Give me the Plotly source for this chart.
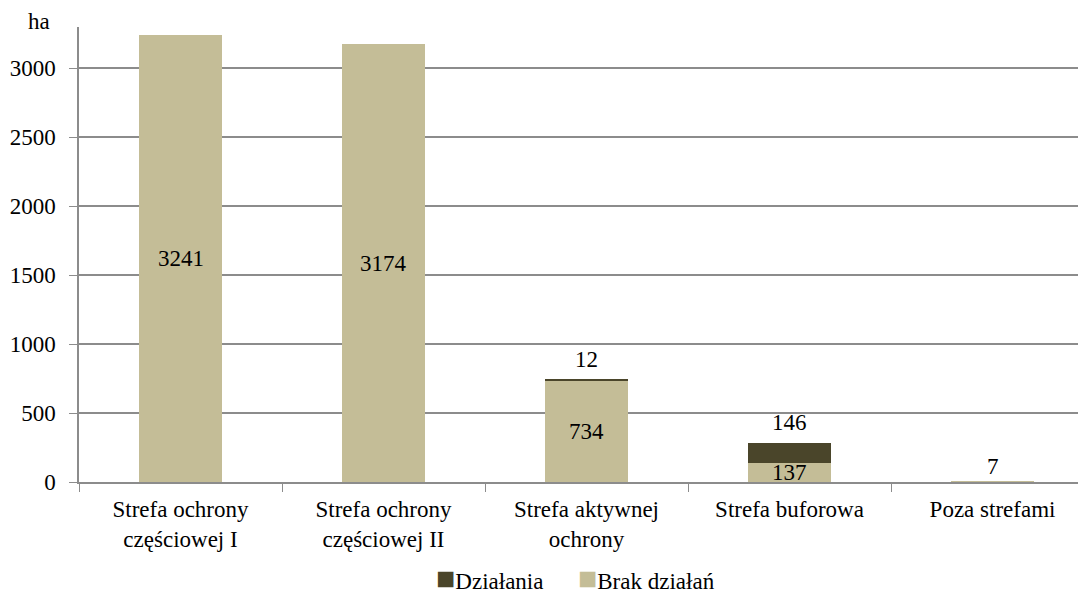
import plotly.graph_objects as go

categories = ["Strefa ochrony<br>częściowej I", "Strefa ochrony<br>częściowej II",
              "Strefa aktywnej<br>ochrony", "Strefa buforowa", "Poza strefami"]
dzialania = [0, 0, 12, 146, 0]
brak = [3241, 3174, 734, 137, 7]
y_ticks = [0, 500, 1000, 1500, 2000, 2500, 3000]

LIGHT = "#C4BD97"
DARK = "#4A452A"
FONT = "Liberation Serif, Times New Roman, serif"
FS = 23

fig = go.Figure()
fig.add_trace(go.Bar(name="Brak działań", x=categories, y=brak, marker_color=LIGHT,
                     marker_line_width=0, hoverinfo="skip"))
fig.add_trace(go.Bar(name="Działania", x=categories, y=dzialania, marker_color=DARK,
                     marker_line_width=0, hoverinfo="skip"))

lab_font = dict(size=FS, color="black", family=FONT)
annotations = []
for c, d, b in zip(categories, dzialania, brak):
    if b >= 100:
        annotations.append(dict(x=c, y=b / 2, text=str(b), showarrow=False, font=lab_font))
    else:
        annotations.append(dict(x=c, y=b + d, text=str(b), showarrow=False, yanchor="middle",
                                yshift=15, font=lab_font))
    if d > 0:
        annotations.append(dict(x=c, y=b + d, text=str(d), showarrow=False, yanchor="middle",
                                yshift=20, font=lab_font))
annotations.append(dict(xref="paper", yref="paper", x=0, y=1, text="ha", showarrow=False,
                        xanchor="right", yanchor="middle", xshift=-27, yshift=6, font=lab_font))
# legend line
legend_text = (f'<span style="color:{DARK};font-size:32px">■</span>Działania'
               f'&nbsp;&nbsp;&nbsp;&nbsp;&nbsp;&nbsp;'
               f'<span style="color:{LIGHT};font-size:32px">■</span>Brak działań')
annotations.append(dict(xref="paper", yref="paper", x=0.489, y=0, text=legend_text,
                        showarrow=False, xanchor="center", yanchor="middle", yshift=-96,
                        font=lab_font))

fig.update_layout(
    barmode="stack",
    bargap=0.596,
    width=1086, height=594,
    margin=dict(l=71, r=0, t=19, b=120),
    plot_bgcolor="white", paper_bgcolor="white",
    font=dict(family=FONT, size=FS, color="black"),
    annotations=annotations,
    showlegend=False,
)
fig.update_xaxes(range=[-0.5, 4.5], showline=True, linecolor="#8C8C8C", linewidth=1.5,
                 ticks="outside", tickson="boundaries", ticklen=8, tickcolor="#8C8C8C",
                 ticklabelstandoff=6, automargin=False,
                 tickfont=dict(size=FS, family=FONT, color="black"), showgrid=False)
fig.update_yaxes(range=[0, 3300], tickvals=y_ticks, showgrid=True, gridcolor="#8C8C8C",
                 gridwidth=1.5, showline=True, linecolor="#8C8C8C", linewidth=1.5,
                 ticks="outside", ticklen=8, tickcolor="#8C8C8C", zeroline=False,
                 ticklabelstandoff=9, automargin=False,
                 tickfont=dict(size=FS, family=FONT, color="black"))

fig.write_html("out.html")
